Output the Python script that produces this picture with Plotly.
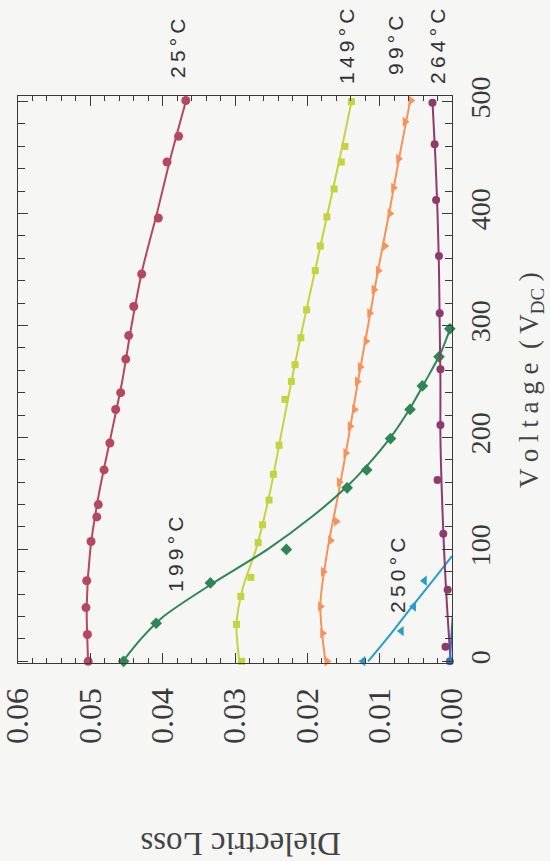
import plotly.graph_objects as go

# ---- data (voltage in V_DC, dielectric loss) ----
v25 = [0, 24, 48, 72, 107, 129, 140, 171, 195, 225, 240, 270, 291, 317, 346, 396, 446, 469, 501]
l25 = [0.0503, 0.0504, 0.0506, 0.0505, 0.0499, 0.0491, 0.0489, 0.0481, 0.0473, 0.0465, 0.0458,
       0.0451, 0.0447, 0.0440, 0.0429, 0.0406, 0.0394, 0.0378, 0.0368]
fit25_v = [0, 50, 100, 150, 200, 250, 300, 350, 400, 450, 500]
fit25_l = [0.0503, 0.0505, 0.0500, 0.0488, 0.0472, 0.0456, 0.0443, 0.0428, 0.0408, 0.0389, 0.0368]

v149 = [0, 33, 58, 75, 106, 122, 144, 167, 193, 234, 250, 265, 289, 314, 349, 371, 397, 422, 446, 460, 500]
l149 = [0.0291, 0.0298, 0.0292, 0.0278, 0.0268, 0.0262, 0.0253, 0.0247, 0.0239, 0.0231, 0.0222,
        0.0217, 0.0209, 0.0201, 0.0189, 0.0182, 0.0173, 0.0163, 0.0153, 0.0148, 0.0139]
fit149_v = [0, 33, 66, 100, 150, 200, 250, 300, 350, 400, 450, 500]
fit149_l = [0.0294, 0.0298, 0.0289, 0.0271, 0.0252, 0.0237, 0.0222, 0.0206, 0.0189, 0.0172, 0.0155, 0.0139]

v99 = [0, 25, 49, 80, 108, 125, 160, 186, 210, 225, 250, 263, 286, 311, 332, 349, 371, 400, 423, 449, 482, 501]
l99 = [0.0173, 0.0179, 0.0182, 0.0178, 0.0168, 0.0160, 0.0156, 0.0147, 0.0141, 0.0135, 0.0131,
       0.0127, 0.0119, 0.0114, 0.0108, 0.0102, 0.0093, 0.0086, 0.0081, 0.0074, 0.0065, 0.0057]
fit99_v = [0, 50, 100, 150, 200, 250, 300, 350, 400, 450, 500]
fit99_l = [0.0175, 0.0182, 0.0172, 0.0157, 0.0143, 0.0130, 0.0116, 0.0102, 0.0087, 0.0073, 0.0058]

v199 = [0, 34, 70, 100, 155, 171, 199, 225, 246, 272, 297]
l199 = [0.0454, 0.0409, 0.0334, 0.0229, 0.0145, 0.0118, 0.0085, 0.0058, 0.0041, 0.0018, 0.0003]
fit199_v = [0, 20, 40, 70, 100, 130, 155, 175, 200, 225, 250, 275, 300]
fit199_l = [0.0455, 0.0430, 0.0399, 0.0330, 0.0255, 0.0192, 0.0147, 0.0117, 0.0085, 0.0059, 0.0037, 0.0016, 0.0001]

v250 = [0, 27, 49, 72]
l250 = [0.0123, 0.0070, 0.0053, 0.0038]
fit250_v = [0, 25, 50, 75, 94]
fit250_l = [0.0116, 0.0084, 0.0054, 0.0023, 0.0]

v264 = [13, 64, 114, 162, 211, 261, 311, 362, 412, 462, 499]
l264 = [0.0009, 0.0006, 0.0012, 0.0020, 0.0016, 0.0016, 0.0017, 0.0018, 0.0022, 0.0024, 0.0027]
fit264_v = [0, 50, 100, 150, 200, 250, 300, 350, 400, 450, 500]
fit264_l = [0.0002, 0.0007, 0.0011, 0.0014, 0.0016, 0.0016, 0.0017, 0.0018, 0.0020, 0.0023, 0.0027]

vBlue = [0, 41]
lBlue = [0.0003, -0.0001]
vRed = [39]
lRed = [-0.0002]

loss_ticks = [0.00, 0.01, 0.02, 0.03, 0.04, 0.05, 0.06]
loss_ticktext = ["0.00", "0.01", "0.02", "0.03", "0.04", "0.05", "0.06"]
volt_ticks = [0, 100, 200, 300, 400, 500]

C25 = "#b5475f"
C149 = "#c5d33e"
C99 = "#f5935a"
C199 = "#2f8655"
C250 = "#2a9ccc"
C264 = "#8e3a6c"
CBLUE = "#3c6fb3"
CRED = "#d8413a"

fig = go.Figure()

def add_series(fv, fl, v, l, color, symbol, size, lw=2):
    fig.add_trace(go.Scatter(x=fl, y=fv, mode="lines", line=dict(color=color, width=lw, shape="spline", smoothing=0.8),
                             showlegend=False, hoverinfo="skip"))
    fig.add_trace(go.Scatter(x=l, y=v, mode="markers", marker=dict(color=color, symbol=symbol, size=size, line=dict(width=0)),
                             showlegend=False, cliponaxis=False))

add_series(fit25_v, fit25_l, v25, l25, C25, "circle", 9)
add_series(fit149_v, fit149_l, v149, l149, C149, "square", 7)
add_series(fit99_v, fit99_l, v99, l99, C99, "triangle-right", 9)
add_series(fit199_v, fit199_l, v199, l199, C199, "diamond", 9)
add_series(fit250_v, fit250_l, v250, l250, C250, "triangle-left", 9)
add_series(fit264_v, fit264_l, v264, l264, C264, "circle", 8)
fig.add_trace(go.Scatter(x=lBlue, y=vBlue, mode="lines+markers", line=dict(color=CBLUE, width=2),
                         marker=dict(color=CBLUE, size=8), showlegend=False, cliponaxis=False))
fig.add_trace(go.Scatter(x=lRed, y=vRed, mode="markers", marker=dict(color=CRED, size=8, symbol="triangle-right"),
                         showlegend=False, cliponaxis=False))

AX = "#3a3a3a"
SERIF = "Liberation Serif, Times New Roman, serif"
W, H = 550, 861
L, R, T, B = 18, 98, 96, 198
pw, ph = W - L - R, H - T - B

def px(xp):
    return (xp - L) / pw

def py(yp):
    return (H - B - yp) / ph

fig.update_layout(
    width=W, height=H,
    margin=dict(l=L, r=R, t=T, b=B, autoexpand=False),
    paper_bgcolor="#f6f6f5", plot_bgcolor="#f6f6f5",
    showlegend=False,
    xaxis=dict(range=[0.06, 0.0], tickvals=loss_ticks, ticktext=loss_ticktext, tickangle=-90,
               ticks="inside", ticklen=10, tickwidth=1, tickcolor=AX, automargin=False,
               minor=dict(dtick=0.002, ticks="inside", ticklen=5, tickcolor=AX, tickwidth=1, showgrid=False),
               showline=True, linecolor=AX, linewidth=1.2, mirror="ticks", showgrid=False, zeroline=False,
               tickfont=dict(family=SERIF, size=32, color="#3a3a3a"), ticklabelstandoff=11,
               ticklabeloverflow="allow"),
    yaxis=dict(range=[-1.5, 505], tickvals=volt_ticks, side="right", tickangle=-90,
               ticks="inside", ticklen=10, tickwidth=1, tickcolor=AX, automargin=False,
               minor=dict(dtick=20, ticks="inside", ticklen=7, tickcolor=AX, tickwidth=1, showgrid=False),
               showline=True, linecolor=AX, linewidth=1.2, mirror="ticks", showgrid=False, zeroline=False,
               tickfont=dict(family=SERIF, size=28, color="#3a3a3a"), ticklabelstandoff=3,
               ticklabeloverflow="allow"),
)

lab_font = dict(family="Liberation Sans, Arial, sans-serif", size=21, color="#333333")
labels = [
    ("2\u20095\u2009°\u2009C", 177, 48),
    ("1\u20094\u20099\u2009°\u2009C", 346, 47),
    ("9\u20099\u2009°\u2009C", 396, 45),
    ("2\u20096\u20094\u2009°\u2009C", 437, 47),
    ("1\u20099\u20099\u2009°\u2009C", 175, 555),
    ("2\u20095\u20090\u2009°\u2009C", 397, 576),
]
for text, xp, yp in labels:
    fig.add_annotation(text=text, x=px(xp), y=py(yp), xref="paper", yref="paper", showarrow=False,
                       textangle=-90, font=lab_font, xanchor="center", yanchor="middle")

fig.add_annotation(text="V o l t a g e  ( V<sub>DC</sub> )",
                   x=px(531), y=py(380), xref="paper", yref="paper", showarrow=False, textangle=-90,
                   font=dict(family=SERIF, size=27, color="#444444"), xanchor="center", yanchor="middle")
fig.add_annotation(text="Dielectric Loss", x=px(241), y=py(844), xref="paper", yref="paper", showarrow=False,
                   textangle=180, font=dict(family=SERIF, size=33, color="#444444"),
                   xanchor="center", yanchor="middle")

fig.write_html("out.html")
